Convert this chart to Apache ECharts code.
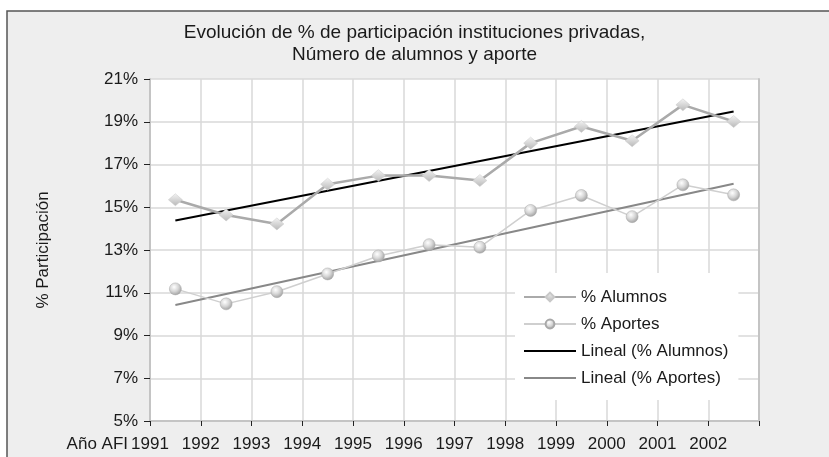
<!DOCTYPE html>
<html>
<head>
<meta charset="utf-8">
<title>Evolución de % de participación instituciones privadas</title>
<script src="https://cdn.jsdelivr.net/npm/echarts@6/dist/echarts.min.js"></script>
<style>
  html, body { margin: 0; padding: 0; background: #ffffff; }
  #chart { width: 829px; height: 457px; }
</style>
</head>
<body>
<div id="chart"></div>
<script>
// datos
var years = [1991, 1992, 1993, 1994, 1995, 1996, 1997, 1998, 1999, 2000, 2001, 2002];
var alumnos = [15.35, 14.64, 14.22, 16.08, 16.48, 16.48, 16.25, 18.0, 18.78, 18.11, 19.79, 19.01];
var aportes = [11.18, 10.48, 11.05, 11.88, 12.72, 13.25, 13.13, 14.85, 15.55, 14.56, 16.05, 15.58];
// líneas de tendencia: valor en el primer y último año
var trendAlumnos = [14.38, 19.48];
var trendAportes = [10.43, 16.10];
var seriesNames = ['% Alumnos', '% Aportes', 'Lineal (% Alumnos)', 'Lineal (% Aportes)'];

(function() {
  var chartEl = document.getElementById('chart');
  var font = "'Liberation Sans Narrow', 'Arial Narrow', 'Liberation Sans', sans-serif";
  var ink = '#1a1a1a';
  var grid = '#d9d9d9';
  var axisGray = '#c4c4c4';
  var clear = 'rgba(0,0,0,0)';

  // cada punto va en el centro de su año
  function pts(vals) {
    return vals.map(function(v, i) { return [years[i] + 0.5, v]; });
  }
  function trend(ends) {
    return [[years[0] + 0.5, ends[0]], [years[years.length - 1] + 0.5, ends[1]]];
  }

  var diamondFill = new echarts.graphic.LinearGradient(0, 0, 0, 1, [
    { offset: 0, color: '#f4f4f4' },
    { offset: 1, color: '#b8b8b8' }
  ]);
  var ballFill = new echarts.graphic.RadialGradient(0.4, 0.35, 0.7, [
    { offset: 0, color: '#ffffff' },
    { offset: 0.5, color: '#d6d6d6' },
    { offset: 1, color: '#9a9a9a' }
  ]);

  var chart = echarts.init(chartEl, null, { renderer: 'canvas' });
  chart.setOption({
    animation: false,
    backgroundColor: '#ffffff',
    textStyle: { fontFamily: font },
    graphic: [
      {
        type: 'rect',
        z: -100,
        silent: true,
        shape: { x: 7, y: 11, width: 840, height: 470 },
        style: { fill: '#eeeeee', stroke: '#555555', lineWidth: 1.5 }
      },
      {
        type: 'text',
        x: 128,
        y: 444,
        style: {
          text: 'Año AFI',
          fill: ink,
          font: '17px ' + font,
          align: 'right',
          verticalAlign: 'middle'
        }
      }
    ],
    title: {
      text: 'Evolución de % de participación instituciones privadas,\nNúmero de alumnos y aporte',
      left: 'center',
      top: 17,
      textStyle: {
        fontFamily: font,
        fontWeight: 'normal',
        fontSize: 19,
        lineHeight: 22,
        color: ink
      }
    },
    legend: {
      data: [
        { name: seriesNames[0] },
        { name: seriesNames[1] },
        { name: seriesNames[2], itemStyle: { color: clear, borderWidth: 0, opacity: 0 } },
        { name: seriesNames[3], itemStyle: { color: clear, borderWidth: 0, opacity: 0 } }
      ],
      orient: 'vertical',
      left: 515,
      top: 273,
      padding: [14, 10, 12, 8],
      itemWidth: 52,
      itemHeight: 11,
      itemGap: 7,
      backgroundColor: '#ffffff',
      textStyle: { fontFamily: font, fontSize: 17, color: ink, lineHeight: 20 }
    },
    grid: {
      left: 150,
      top: 79,
      right: 70,
      bottom: 36,
      show: true,
      backgroundColor: '#ffffff',
      borderWidth: 0
    },
    xAxis: {
      type: 'value',
      min: 1991,
      max: 2003,
      interval: 1,
      axisLine: { lineStyle: { color: axisGray, width: 2 } },
      axisTick: { show: true, length: 5, lineStyle: { color: '#222222', width: 1 } },
      splitLine: { show: true, lineStyle: { color: grid, width: 1.5 } },
      axisLabel: {
        color: ink,
        fontSize: 17,
        margin: 15,
        showMaxLabel: true,
        formatter: function(v) { return v === 2003 ? '' : String(v); }
      }
    },
    yAxis: [
      {
        type: 'value',
        min: 5,
        max: 21,
        interval: 2,
        name: '% Participación',
        nameLocation: 'middle',
        nameGap: 98,
        nameRotate: 90,
        nameTextStyle: { fontFamily: font, fontSize: 17, color: ink },
        axisLine: { show: true, lineStyle: { color: axisGray, width: 2 } },
        axisTick: { show: true, length: 6, lineStyle: { color: '#222222', width: 1 } },
        splitLine: { show: true, lineStyle: { color: grid, width: 1.5 } },
        axisLabel: { color: ink, fontSize: 17, margin: 12, formatter: '{value}%' }
      },
      {
        type: 'value',
        min: 5,
        max: 21,
        interval: 2,
        position: 'right',
        axisLine: { show: true, lineStyle: { color: axisGray, width: 2 } },
        axisTick: { show: false },
        axisLabel: { show: false },
        splitLine: { show: false }
      }
    ],
    series: [
      {
        name: seriesNames[0],
        type: 'line',
        data: pts(alumnos),
        symbol: 'diamond',
        symbolSize: [14, 12],
        z: 3,
        lineStyle: { color: '#aaaaaa', width: 2.5 },
        itemStyle: { color: diamondFill, borderColor: '#c8c8c8', borderWidth: 0.5 }
      },
      {
        name: seriesNames[1],
        type: 'line',
        data: pts(aportes),
        symbol: 'circle',
        symbolSize: 12,
        z: 3,
        lineStyle: { color: '#cfcfcf', width: 1.5 },
        itemStyle: { color: ballFill, borderColor: '#a8a8a8', borderWidth: 0.5 }
      },
      {
        name: seriesNames[2],
        type: 'line',
        data: trend(trendAlumnos),
        symbol: 'circle',
        showSymbol: false,
        z: 2,
        lineStyle: { color: '#000000', width: 2 },
        itemStyle: { color: clear }
      },
      {
        name: seriesNames[3],
        type: 'line',
        data: trend(trendAportes),
        symbol: 'circle',
        showSymbol: false,
        z: 2,
        lineStyle: { color: '#888888', width: 2 },
        itemStyle: { color: clear }
      }
    ]
  });

  window.addEventListener('resize', function() {
    chart.resize();
  });
})();
</script>
</body>
</html>
